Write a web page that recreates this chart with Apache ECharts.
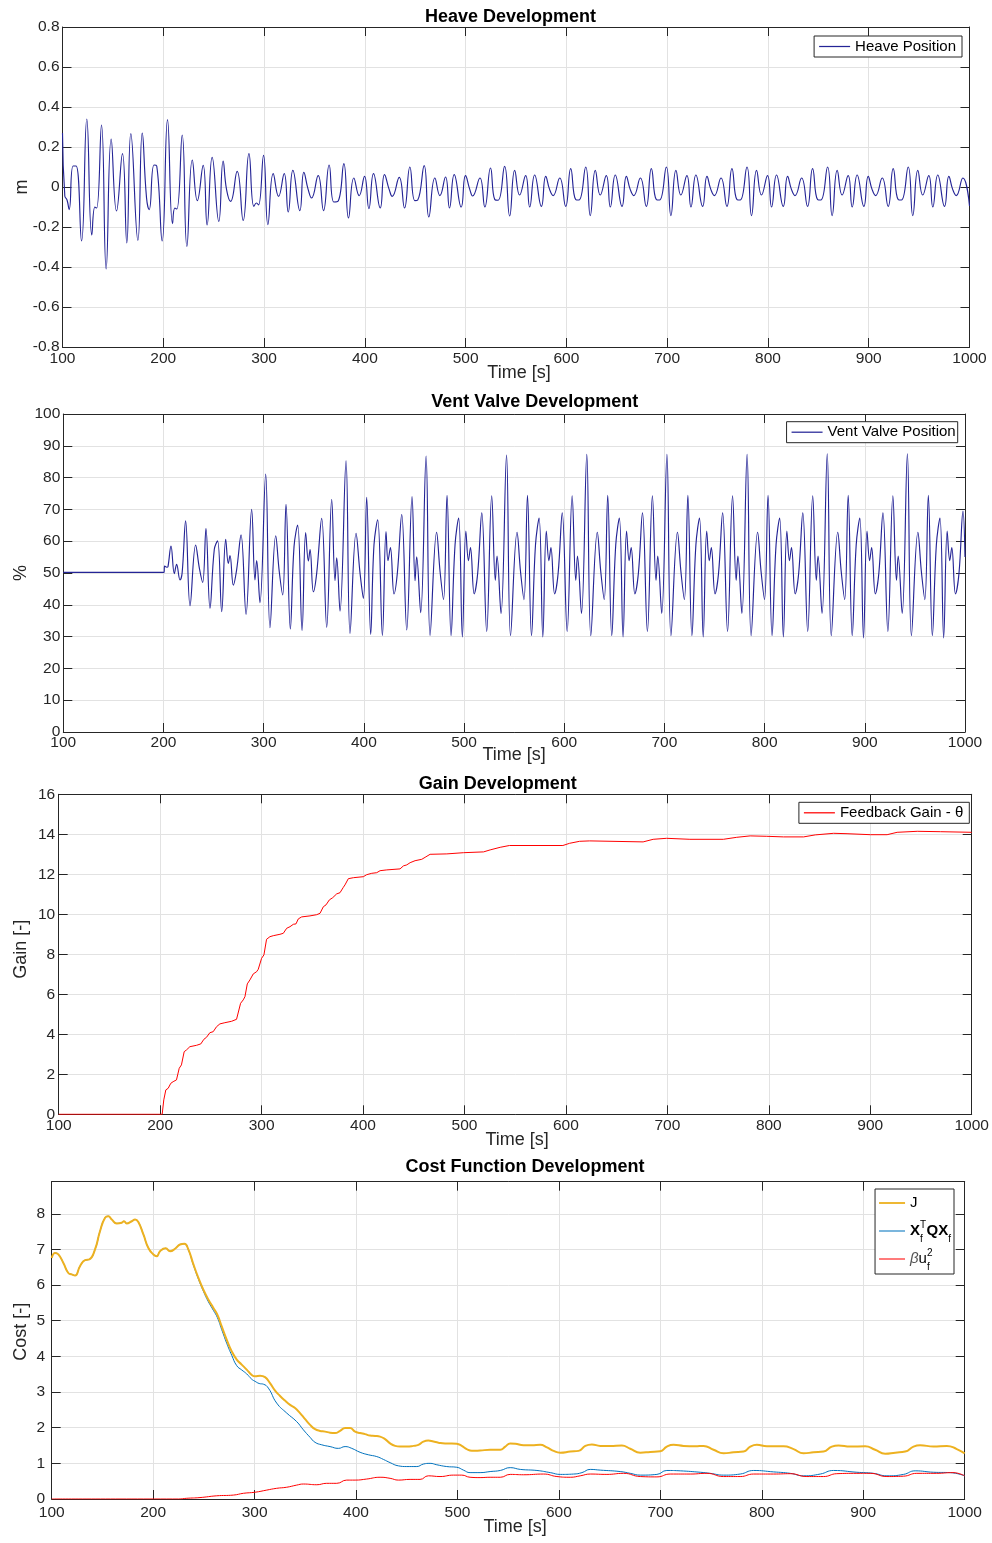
<!DOCTYPE html>
<html>
<head>
<meta charset="utf-8">
<script src="https://cdn.jsdelivr.net/npm/echarts/dist/echarts.min.js"></script>
<style>
html,body{margin:0;padding:0;background:#fff;}
#c{width:992px;height:1543px;}
</style>
</head>
<body>
<div id="c"></div>
<script>
// ---------------- DATA ----------------
const xTicks = [100, 1000, 100]; // min, max, interval of time axis

// Heave position [m] : [time s, value]
const heave = [
[100,0.27],[102.3,-0.045],[104.5,-0.065],[106.6,-0.113],[110.5,0.105],[113.5,0.105],[118.9,-0.27],[124.1,0.34],[129.1,-0.24],[132.1,-0.1],[133.9,-0.105],[138.7,0.31],[143.3,-0.41],[148.3,0.24],[153.6,-0.12],[159.5,0.167],[163.8,-0.28],[167.8,0.267],[174.8,-0.267],[179.1,0.27],[183.4,-0.055],[186,-0.113],[190.8,0.11],[193.5,0.105],[198.9,-0.27],[204.2,0.337],[209.2,-0.183],[211.5,-0.105],[213.5,-0.11],[218.8,0.26],[223.4,-0.297],[228.8,0.135],[233.8,-0.068],[239.6,0.108],[243.5,-0.19],[248.5,0.148],[255.1,-0.172],[259.4,0.13],[262.8,-0.013],[266.8,-0.072],[273.3,0.078],[279.3,-0.167],[285,0.167],[289.9,-0.097],[292.5,-0.08],[294.5,-0.09],[299.5,0.158],[303.8,-0.188],
[309.1,0.067],[314.4,-0.047],[320,0.067],[324,-0.125],[328.6,0.083],[335.5,-0.118],[339.5,0.073],[343.8,-0.013],[347.1,-0.055],[353.7,0.057],[359,-0.118],[364.6,0.11],[369.3,-0.075],[373.6,-0.07],[379.2,0.117],[383.8,-0.155],
[389.1,0.045],[394.4,-0.043],[399.7,0.053],[404,-0.108],[408.6,0.067],[415.3,-0.105],[419.5,0.062],[424.2,-0.013],[427.2,-0.047],[434.1,0.048],[439.4,-0.105],[444.7,0.1],[449.6,-0.068],[452.5,-0.065],[458.9,0.107],[463.5,-0.15],
[469.5,0.045],[474.5,-0.043],[480.1,0.05],[484,-0.105],[488.7,0.062],[495.6,-0.1],[499.9,0.057],[504.2,-0.013],[506.9,-0.045],[514.2,0.045],[519.1,-0.1],[524.7,0.095],[529,-0.063],[532.3,-0.066],[538.7,0.103],[543.7,-0.145],
[548.7,0.083],[553.6,-0.04],[559.6,0.057],[563.6,-0.1],[568.5,0.06],[575.2,-0.097],[579.5,0.053],[583.4,-0.013],[586.8,-0.043],[593.4,0.045],[599.3,-0.097],[604.3,0.092],[609.3,-0.063],[612.5,-0.065],[619.2,0.1],[623.7,-0.143],
[628.7,0.083],[633.6,-0.04],[639.6,0.057],[643.6,-0.1],[648.5,0.06],[655.2,-0.097],[659.5,0.053],[663.4,-0.013],[666.8,-0.043],[673.4,0.045],[679.3,-0.097],[684.3,0.092],[689.3,-0.063],[692.5,-0.065],[699.2,0.1],[703.7,-0.143],
[708.7,0.083],[713.6,-0.04],[719.6,0.057],[723.6,-0.1],[728.5,0.06],[735.2,-0.097],[739.5,0.053],[743.4,-0.013],[746.8,-0.043],[753.4,0.045],[759.3,-0.097],[764.3,0.092],[769.3,-0.063],[772.5,-0.065],[779.2,0.1],[783.7,-0.143],
[788.7,0.083],[793.6,-0.04],[799.6,0.057],[803.6,-0.1],[808.5,0.06],[815.2,-0.097],[819.5,0.053],[823.4,-0.013],[826.8,-0.043],[833.4,0.045],[839.3,-0.097],[844.3,0.092],[849.3,-0.063],[852.5,-0.065],[859.2,0.1],[863.7,-0.143],
[868.7,0.083],[873.6,-0.04],[879.6,0.057],[883.6,-0.1],[888.5,0.06],[895.2,-0.097],[899.5,0.053],[903.4,-0.013],[906.8,-0.043],[913.4,0.045],[919.3,-0.097],[924.3,0.092],[929.3,-0.063],[932.5,-0.065],[939.2,0.1],[943.7,-0.143],
[948.7,0.083],[953.6,-0.04],[959.6,0.057],[963.6,-0.1],[968.5,0.06],[975.2,-0.097],[979.5,0.053],[983.4,-0.013],[986.8,-0.043],[993.4,0.045],[1000,-0.095]
];

// Vent valve position [%]
const vent = [
[100,50.2],[200.6,50.2],[201,52.2],[203.5,51.8],[204.5,52.0],[207.5,58.5],[210.8,49.8],[213.1,52.7],[216.5,47.8],[218.6,50.0],[222.1,66.4],[226.5,39.7],[232.1,58.8],[235.8,51.5],[239.1,47.0],[242.4,64.0],[246.4,38.9],[250.7,57.4],[254.0,60.1],[258.1,37.8],[262.1,60.6],[264.7,53.0],[266.4,55.5],[269.7,46.2],[273.0,51.0],[277.4,62.0],[282.4,37.0],[288.0,70.0],[291.3,47.8],[293.0,53.9],[296.3,40.7],
[302.0,81.1],[306.3,32.8],[312.0,61.7],[315.6,50.3],[319.0,43.1],[322.3,71.6],[326.6,32.4],[330.3,58.3],[333.9,65.1],[338.3,31.9],[341.9,62.7],[344.6,53.8],[346.3,57.4],[349.6,44.1],[352.9,49.9],[357.9,67.2],[362.9,32.9],[367.9,73.2],[371.2,47.6],[372.9,54.8],[376.2,38.0],
[382.2,85.3],[386.2,31.0],[392.2,62.5],[396.2,49.9],[399.5,42.0],[402.8,73.8],[406.8,30.7],[410.1,58.8],[413.8,66.7],[418.5,30.3],[422.1,63.0],[424.1,53.9],[426.5,58.0],[430.1,43.4],[433.4,49.9],[437.8,68.4],[442.8,32.1],[448.1,74.0],[451.1,47.6],[452.7,55.1],[456.7,37.5],
[462.1,86.8],[466.1,30.4],[472.6,62.8],[476.1,50.3],[479.5,41.6],[483.0,74.4],[487.0,30.3],[491.0,58.8],[494.6,67.3],[498.3,29.9],[501.8,63.2],[504.4,53.9],[506.4,58.0],[510.1,43.4],[513.6,49.9],[517.7,68.9],[522.6,31.6],[527.6,74.3],[531.2,47.7],[532.9,55.3],[536.9,37.3],
[542.4,87.1],[546.4,30.3],[552.9,62.8],[556.4,50.3],[559.8,41.6],[563.3,74.4],[567.3,30.3],[571.3,58.8],[574.9,67.3],[578.6,29.9],[582.1,63.2],[584.7,53.9],[586.7,58.0],[590.4,43.4],[593.9,49.9],[598.0,68.9],[602.9,31.6],[607.9,74.3],[611.5,47.7],[613.2,55.3],[617.2,37.3],
[622.5,87.3],[626.5,30.3],[633.0,62.8],[636.5,50.3],[639.9,41.6],[643.4,74.4],[647.4,30.3],[651.4,58.8],[655.0,67.3],[658.7,29.9],[662.2,63.2],[664.8,53.9],[666.8,58.0],[670.5,43.4],[674.0,49.9],[678.1,68.9],[683.0,31.6],[688.0,74.3],[691.6,47.7],[693.3,55.3],[697.3,37.3],
[702.5,87.3],[706.5,30.3],[713.0,62.8],[716.5,50.3],[719.9,41.6],[723.4,74.4],[727.4,30.3],[731.4,58.8],[735.0,67.3],[738.7,29.9],[742.2,63.2],[744.8,53.9],[746.8,58.0],[750.5,43.4],[754.0,49.9],[758.1,68.9],[763.0,31.6],[768.0,74.3],[771.6,47.7],[773.3,55.3],[777.3,37.3],
[782.5,87.3],[786.5,30.3],[793.0,62.8],[796.5,50.3],[799.9,41.6],[803.4,74.4],[807.4,30.3],[811.4,58.8],[815.0,67.3],[818.7,29.9],[822.2,63.2],[824.8,53.9],[826.8,58.0],[830.5,43.4],[834.0,49.9],[838.1,68.9],[843.0,31.6],[848.0,74.3],[851.6,47.7],[853.3,55.3],[857.3,37.3],
[862.5,87.5],[866.5,30.3],[873.0,62.8],[876.5,50.3],[879.9,41.6],[883.4,74.4],[887.4,30.3],[891.4,58.8],[895.0,67.3],[898.7,29.6],[902.2,63.2],[904.8,53.9],[906.8,58.0],[910.5,43.4],[914.0,49.9],[918.1,68.9],[923.0,31.6],[928.0,74.3],[931.6,47.7],[933.3,55.3],[937.3,37.3],
[942.5,87.5],[946.5,30.3],[953.0,62.8],[956.5,50.3],[959.9,41.6],[963.4,74.4],[967.4,30.3],[971.4,58.8],[975.0,67.3],[978.7,29.6],[982.2,63.2],[984.8,53.9],[986.8,58.0],[990.5,43.4],[994.0,49.9],[998.0,69.5],[1000,55]
];

// Feedback gain theta [-]
const gain = [
[100,0],[202,0],[202.5,0.05],[203.6,0.72],[205.6,1.22],[207.9,1.3],[210.5,1.55],[212.8,1.63],[216.1,1.72],[218.8,2.3],[221,2.47],[223.7,3.13],[226,3.22],[229.3,3.38],[235.9,3.45],[240.1,3.52],[243.1,3.75],[245.7,3.85],[249,4.08],[252.3,4.13],[255.6,4.38],[258.9,4.52],[263.8,4.58],[270.4,4.65],[275.3,4.75],[277,4.8],[279.3,5.55],[281.9,5.72],[283.6,5.88],[285.9,6.52],[288.5,6.72],[291.8,7.02],[295.1,7.13],[296.7,7.25],[300,7.8],[302.3,7.97],[304.9,8.75],[308.2,8.88],[311.5,8.93],[318.1,9.0],[321.4,9.05],[324.7,9.3],[328,9.38],[331.3,9.5],[333.9,9.52],[336.2,9.77],[339.5,9.87],[347.7,9.92],[354.3,9.98],[357.6,10.05],[360.9,10.38],[363.5,10.47],[366.8,10.72],[370.1,10.83],[374,11.02],[377.3,11.08],[380.6,11.35],[382.2,11.47],[385.5,11.78],[390.5,11.83],[400.3,11.88],[403.6,11.98],[408.6,12.05],[413.5,12.08],[416.8,12.18],[423.4,12.22],[436.5,12.27],[439.8,12.42],[443.1,12.47],[446.4,12.58],[451.3,12.68],[457.9,12.75],[461.2,12.85],[466.1,13.0],[482.6,13.02],[499,13.08],[518.8,13.12],[525.3,13.22],[535.2,13.35],[544.3,13.44],[597,13.44],[603.6,13.55],[613.5,13.65],[623.4,13.67],[676.1,13.62],[686,13.75],[699.2,13.8],[722.2,13.75],[755.2,13.75],[768.4,13.85],[781.6,13.92],[798,13.9],[814.5,13.87],[834.3,13.87],[845.8,13.97],[863.9,14.05],[877.1,14.03],[900.2,13.98],[916.6,13.98],[926.5,14.1],[946.3,14.15],[969.4,14.13],[1000,14.1]
];

// Cost function J
const costJ = [
[100,6.76],[103.3,6.9],[106.6,6.86],[111.5,6.62],[116.4,6.34],[119.7,6.3],[123,6.27],[127.9,6.53],[132.9,6.7],[137.1,6.72],[142.7,7.0],[147.6,7.51],[152.6,7.89],[155.9,7.93],[159.2,7.84],[164.1,7.73],[169,7.75],[171.3,7.79],[173.9,7.73],[178.9,7.79],[182.2,7.84],[185.4,7.77],[190.4,7.42],[195.3,7.04],[200.2,6.86],[203.5,6.81],[206.8,6.95],[212.4,7.03],[216.7,6.95],[221.6,7.02],[226.5,7.14],[230.8,7.16],[234.7,7.0],[239.7,6.58],[244.6,6.2],[249.5,5.87],[254.5,5.59],[259.4,5.36],[263.3,5.17],[267.6,4.84],[272.5,4.47],[277.5,4.14],[282.4,3.91],[287.3,3.77],[292.2,3.63],[297.2,3.48],[300.5,3.44],[305.4,3.46],[310.3,3.42],[315.2,3.25],[320.2,3.04],[325.1,2.89],[330,2.76],[335,2.64],[339.9,2.55],[344.8,2.41],[349.8,2.24],[354.7,2.08],[359.6,1.96],[364.5,1.91],[369.5,1.89],[374.4,1.86],[379.3,1.85],[384.3,1.91],[389.2,1.99],[394.1,1.99],[399.1,1.89],[404,1.85],[408.9,1.82],[413.8,1.78],[418.8,1.77],[423.7,1.75],[428.6,1.68],[433.6,1.56],[438.5,1.49],[443.4,1.47],[450,1.47],[456.6,1.49],[461.5,1.52],[466.4,1.61],[471.3,1.64],[476.3,1.61],[481.2,1.58],[487.8,1.56],[494.3,1.56],[499.3,1.55],[504.2,1.49],[509.1,1.40],[514.1,1.35],[522.3,1.36],[532.2,1.38],[542.2,1.38],[547.1,1.47],[552,1.56],[557,1.55],[565.2,1.51],[573.4,1.51],[581.6,1.52],[588.2,1.45],[594.7,1.35],[601.3,1.30],[611.2,1.33],[619.4,1.35],[626,1.49],[632.5,1.53],[640.7,1.49],[650.6,1.49],[662.1,1.50],[670.3,1.41],[680.2,1.30],[690,1.32],[699.9,1.34],[706.4,1.47],[713,1.52],[722.9,1.49],[734.4,1.48],[742.6,1.49],[752.4,1.38],[762.3,1.28],[772.1,1.31],[782,1.33],[788.6,1.47],[795.1,1.52],[805,1.48],[821.4,1.48],[831.3,1.40],[841.1,1.28],[851,1.31],[860.8,1.33],[869,1.47],[875.6,1.50],[887.1,1.47],[901.9,1.48],[911.7,1.38],[921.6,1.27],[931.5,1.30],[941.3,1.33],[949.5,1.47],[956.1,1.51],[969.2,1.47],[982.4,1.49],[992.2,1.40],[1000,1.28]
];

// State cost  X_f^T Q X_f
const costXQX = [
[100,6.76],[103.3,6.9],[106.6,6.86],[111.5,6.62],[116.4,6.34],[119.7,6.3],[123,6.27],[127.9,6.53],[132.9,6.7],[137.1,6.72],[142.7,7.0],[147.6,7.51],[152.6,7.89],[155.9,7.93],[159.2,7.84],[164.1,7.73],[169,7.75],[171.3,7.79],[173.9,7.73],[178.9,7.79],[182.2,7.84],[185.4,7.77],[190.4,7.42],[195.3,7.04],[200.2,6.86],[203.5,6.81],[206.8,6.95],[212.4,7.03],[216.7,6.95],[221.6,7.02],[226.5,7.14],[230.8,7.16],[234.7,6.99],[239.7,6.56],[244.6,6.17],[249.5,5.83],[254.5,5.53],[259.4,5.29],[263.3,5.09],[267.6,4.75],[272.5,4.37],[277.5,4.03],[282.4,3.74],[287.3,3.62],[292.2,3.51],[297.2,3.36],[300.5,3.3],[304.5,3.24],[308.7,3.22],[313.6,3.11],[321.8,2.69],[331.7,2.41],[341.5,2.17],[348.1,1.94],[354.7,1.73],[359.6,1.59],[366.2,1.52],[374.4,1.47],[382.6,1.42],[389.2,1.47],[395.8,1.42],[404,1.31],[412.2,1.24],[420.4,1.19],[427,1.11],[433.6,1.02],[441.8,0.93],[450,0.91],[459.9,0.91],[466.4,0.98],[473,1.0],[479.6,0.96],[489.4,0.91],[499.3,0.89],[505.9,0.81],[512.4,0.74],[522.3,0.74],[532.2,0.77],[542.2,0.80],[552,0.88],[561.9,0.83],[578.3,0.80],[591.5,0.74],[601.3,0.69],[614.5,0.70],[622.7,0.74],[630.9,0.83],[640.7,0.81],[660.4,0.77],[670.3,0.72],[680.2,0.67],[696.6,0.69],[706.4,0.80],[719.6,0.79],[739.3,0.75],[749.1,0.72],[762.3,0.67],[778.7,0.70],[791.9,0.80],[811.6,0.76],[828,0.72],[841.1,0.65],[857.6,0.70],[870.7,0.80],[893.7,0.75],[910.1,0.72],[923.3,0.65],[939.7,0.69],[951.2,0.79],[969.2,0.75],[985.6,0.74],[1000,0.65]
];

// Control cost  beta u_f^2
const costBeta = [
[100,0],[225,0],[233.1,0.02],[246.2,0.04],[262.7,0.09],[279.1,0.11],[289,0.16],[300.5,0.19],[312,0.25],[321.8,0.30],[331.7,0.33],[341.5,0.39],[348.1,0.42],[361.3,0.40],[371.1,0.44],[381,0.44],[390.8,0.53],[399.1,0.53],[410.5,0.56],[423.7,0.61],[433.6,0.58],[441.8,0.53],[453.3,0.55],[463.1,0.55],[471.3,0.65],[482.8,0.63],[496,0.67],[504.2,0.67],[512.4,0.61],[522.3,0.60],[532.2,0.61],[542.2,0.61],[552,0.69],[565.2,0.68],[584.9,0.70],[598,0.63],[611.2,0.61],[621,0.65],[630.9,0.70],[647.3,0.69],[663.7,0.72],[680.2,0.63],[696.6,0.62],[709.7,0.70],[729.4,0.70],[745.9,0.72],[762.3,0.63],[778.7,0.63],[791.9,0.70],[811.6,0.70],[828,0.71],[844.4,0.63],[860.8,0.63],[873.9,0.71],[893.7,0.72],[906.8,0.72],[923.3,0.63],[939.7,0.64],[952.8,0.72],[972,0.72],[988.4,0.74],[1000,0.65]
];

// axis ranges [min, max, interval]
const yHeave = [-0.8, 0.8, 0.2];
const yVent = [0, 100, 10];
const yGain = [0, 16, 2];
const yCost = [0, 8.9, 1];

// ---------------- CHART ----------------
const FONT = '"Liberation Sans", Arial, Helvetica, sans-serif';
const AX = '#262626';
const GRIDC = '#e2e2e2';

const grids = [
  {left: 62.5, top: 27, width: 907, height: 320},
  {left: 63.3, top: 414, width: 901.7, height: 318},
  {left: 58.7, top: 794.3, width: 913, height: 320},
  {left: 51.7, top: 1181.7, width: 913, height: 317.3}
].map(g => Object.assign(g, {containLabel: false, outerBoundsMode: 'none'}));
const yRanges = [yHeave, yVent, yGain, yCost];
const yNames = ['m', '%', 'Gain [-]', 'Cost [-]'];
const yNameGap = [31, 33.5, 29, 21.5];
const yNamePad = [0, 0, 10, 17];
const yLabMargin = [3, 3, 3.5, 6.5];
const xNameGap = [17, 13.8, 16.7, 19];
const xNamePad = [6, 0, 4, 14];
const xLabMargin = [4, 3, 3, 5.5];

const xAxes = [], yAxes = [];
for (let i = 0; i < 4; i++) {
  xAxes.push({
    gridIndex: i, type: 'value', position: 'bottom',
    min: xTicks[0], max: xTicks[1], interval: xTicks[2],
    axisLine: {show: true, onZero: false, lineStyle: {color: AX, width: 1}},
    axisTick: {show: true, inside: true, length: 9, lineStyle: {color: AX, width: 1}},
    axisLabel: {color: AX, fontSize: 15.5, fontFamily: FONT, margin: xLabMargin[i],
      formatter: function (v) { return String(v); }},
    splitLine: {show: true, lineStyle: {color: GRIDC, width: 1}},
    name: 'Time [s]', nameLocation: 'middle', nameGap: xNameGap[i], nameMoveOverlap: false,
    nameTextStyle: {color: AX, fontSize: 18, fontFamily: FONT, padding: [0, 0, 0, xNamePad[i]]}
  });
  const r = yRanges[i];
  yAxes.push({
    gridIndex: i, type: 'value', position: 'left',
    min: r[0], max: r[1], interval: r[2],
    axisLine: {show: true, onZero: false, lineStyle: {color: AX, width: 1}},
    axisTick: {show: true, inside: true, length: 9, lineStyle: {color: AX, width: 1}},
    axisLabel: {color: AX, fontSize: 15.5, fontFamily: FONT, margin: yLabMargin[i],
      formatter: function (v) { return (Math.abs(v / r[2] - Math.round(v / r[2])) < 1e-6) ? String(+v.toFixed(2)) : ''; }},
    splitLine: {show: true, lineStyle: {color: GRIDC, width: 1}},
    name: yNames[i], nameLocation: 'middle', nameGap: yNameGap[i], nameMoveOverlap: false,
    nameTextStyle: {color: AX, fontSize: 18, fontFamily: FONT, padding: [0, 0, 0, yNamePad[i]]}
  });
}
for (let i = 0; i < 4; i++) {
  xAxes.push({
    gridIndex: i, type: 'value', position: 'top',
    min: xTicks[0], max: xTicks[1], interval: xTicks[2],
    axisLine: {show: true, onZero: false, lineStyle: {color: AX, width: 1}},
    axisTick: {show: true, inside: true, length: 9, lineStyle: {color: AX, width: 1}},
    axisLabel: {show: false}, splitLine: {show: false}
  });
  const r = yRanges[i];
  yAxes.push({
    gridIndex: i, type: 'value', position: 'right',
    min: r[0], max: r[1], interval: r[2],
    axisLine: {show: true, onZero: false, lineStyle: {color: AX, width: 1}},
    axisTick: {show: true, inside: true, length: 9, lineStyle: {color: AX, width: 1}},
    axisLabel: {show: false}, splitLine: {show: false}
  });
}

function line(name, idx, data, color, width, smooth, z) {
  return {
    name: name, type: 'line', xAxisIndex: idx, yAxisIndex: idx, data: data,
    symbol: 'none', showSymbol: false, smooth: smooth, clip: true, z: z || 2,
    lineStyle: {color: color, width: width}, itemStyle: {color: color},
    emphasis: {disabled: true}
  };
}

const NAVY = '#242496';
const series = [
  line('Heave Position', 0, heave, NAVY, 1.15, 0.5),
  line('Vent Valve Position', 1, vent, NAVY, 1.15, 0.4),
  line('Feedback Gain - θ', 2, gain, '#ff0000', 1, false),
  line('XQX', 3, costXQX, '#0072BD', 1, 0.5, 2),
  line('beta', 3, costBeta, '#ff0000', 1, 0.5, 3),
  line('J', 3, costJ, '#EDB120', 2, 0.5, 4)
];

const THIN = 'path://M0,0H100V4H0Z';
const THICK = 'path://M0,0H100V7H0Z';

const legBase = {
  orient: 'vertical', backgroundColor: '#fff', borderColor: AX, borderWidth: 1,
  borderRadius: 0, itemWidth: 31, itemHeight: 14, itemGap: 6, selectedMode: false,
  icon: THIN,
  textStyle: {color: '#000', fontSize: 15, fontFamily: FONT}
};

const rich = {
  n: {fontSize: 15, fontFamily: FONT, color: '#000', lineHeight: 26},
  b: {fontSize: 15, fontFamily: FONT, color: '#000', fontWeight: 'bold', lineHeight: 26},
  it: {fontSize: 15, fontFamily: FONT, color: '#555', fontStyle: 'italic', lineHeight: 26},
  sup: {fontSize: 10, fontFamily: FONT, color: '#000', verticalAlign: 'top', width: 0, padding: [2, 0, 0, 0]},
  subw: {fontSize: 10, fontFamily: FONT, color: '#000', verticalAlign: 'bottom', width: 6.5},
  sub: {fontSize: 10, fontFamily: FONT, color: '#000', verticalAlign: 'bottom'}
};
const legendLabels = {
  'J': '{n|J}',
  'XQX': '{b|X}{sup|T}{subw|f}{b|QX}{sub|f}',
  'beta': '{it|β}{n|u}{sup|2}{sub|f}'
};

const legends = [
  Object.assign({}, legBase, {data: ['Heave Position'], right: 30, top: 36, padding: [3, 6, 3, 5]}),
  Object.assign({}, legBase, {data: ['Vent Valve Position'], right: 34.3, top: 421.7, padding: [3, 2, 3, 5]}),
  Object.assign({}, legBase, {data: ['Feedback Gain - θ'], right: 22.7, top: 802.3, padding: [3, 6, 3, 5]}),
  Object.assign({}, legBase, {
    data: [{name: 'J', icon: THICK}, {name: 'XQX'}, {name: 'beta'}],
    right: 38, top: 1189, padding: [1, 3, 2, 4],
    itemWidth: 26, itemHeight: 26, itemGap: 2,
    formatter: function (name) { return legendLabels[name]; },
    textStyle: {color: '#000', fontSize: 15, fontFamily: FONT, lineHeight: 26, rich: rich}})
];

const titles = [
  ['Heave Development', 510.5, 17],
  ['Vent Valve Development', 534.7, 402],
  ['Gain Development', 497.8, 783.8],
  ['Cost Function Development', 525, 1167]
];
const graphic = titles.map(t => ({
  type: 'text', x: t[1], y: t[2], silent: true,
  style: {text: t[0], fill: '#000', font: 'bold 18px ' + FONT, align: 'center', verticalAlign: 'middle'}
}));

const chart = echarts.init(document.getElementById('c'), null, {renderer: 'canvas'});
chart.setOption({
  animation: false,
  backgroundColor: '#fff',
  grid: grids,
  xAxis: xAxes,
  yAxis: yAxes,
  legend: legends,
  graphic: graphic,
  series: series
});
</script>
</body>
</html>
